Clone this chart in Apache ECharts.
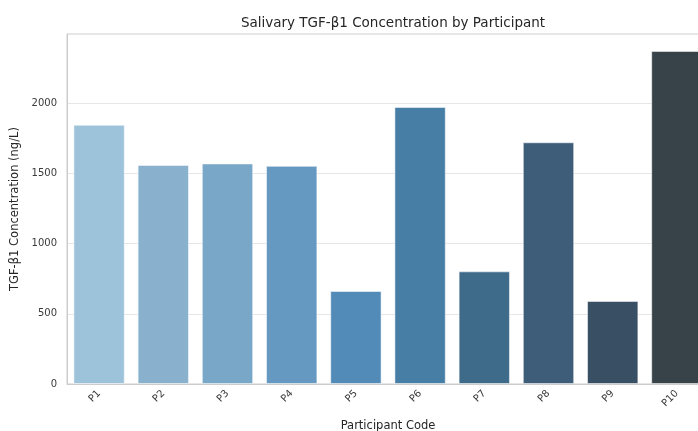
<!DOCTYPE html>
<html>
<head>
<meta charset="utf-8">
<script src="https://cdn.jsdelivr.net/npm/echarts@6/dist/echarts.min.js"></script>
<style>html,body{margin:0;padding:0;background:#fff}#c{width:698px;height:431px}</style>
</head>
<body>
<div id="c"></div>
<script>
const categories = ['P1','P2','P3','P4','P5','P6','P7','P8','P9','P10'];
const values = [1848, 1562, 1572, 1555, 663, 1975, 803, 1723, 592, 2374];
const colors = ['#9dc3da','#89b1cd','#79a7c7','#6599c1','#528bb8','#467ea6','#3f6b8b','#3d5d78','#394f63','#374249'];
const yTicks = [0, 500, 1000, 1500, 2000];

const chart = echarts.init(document.getElementById('c'), null, {renderer:'canvas'});
const font = 'DejaVu Sans';
chart.setOption({
  animation: false,
  backgroundColor: '#ffffff',
  title: {
    text: 'Salivary TGF-β1 Concentration by Participant',
    left: 388, top: 11, textAlign: 'center',
    textStyle: {fontFamily: font, fontSize: 13.5, fontWeight: 'normal', color: '#262626'}
  },
  grid: {left: 67, width: 642, top: 34, height: 350, containLabel: false, outerBoundsMode: 'none',
    show: true, borderColor: '#cccccc', borderWidth: 1, backgroundColor: 'transparent'},
  xAxis: {
    type: 'category', data: categories,
    name: 'Participant Code', nameLocation: 'middle', nameGap: 36,
    nameTextStyle: {fontFamily: font, fontSize: 11.5, color: '#262626'},
    axisLine: {show: true, lineStyle: {color: '#cccccc', width: 1}},
    axisTick: {show: false},
    axisLabel: {rotate: 45, fontFamily: font, fontSize: 10, color: '#3a3a3a', margin: 8},
    splitLine: {show: false}
  },
  yAxis: {
    type: 'value', min: 0, max: 2495, interval: 500,
    name: 'TGF-β1 Concentration (ng/L)', nameLocation: 'middle', nameGap: 37,
    nameTextStyle: {fontFamily: font, fontSize: 11.5, color: '#262626'},
    axisLine: {show: true, lineStyle: {color: '#cccccc', width: 1}},
    axisTick: {show: false},
    axisLabel: {fontFamily: font, fontSize: 10, color: '#3a3a3a', margin: 10, showMaxLabel: false,
      formatter: v => yTicks.includes(v) ? String(v) : ''},
    splitLine: {show: true, lineStyle: {color: '#e6e6e6', width: 1}}
  },
  series: [{
    type: 'bar',
    data: values.map((v, i) => ({value: v, itemStyle: {color: colors[i]}})),
    barCategoryGap: '20%',
    itemStyle: {borderColor: 'rgba(255,255,255,0.5)', borderWidth: 1}
  }]
});
</script>
</body>
</html>
